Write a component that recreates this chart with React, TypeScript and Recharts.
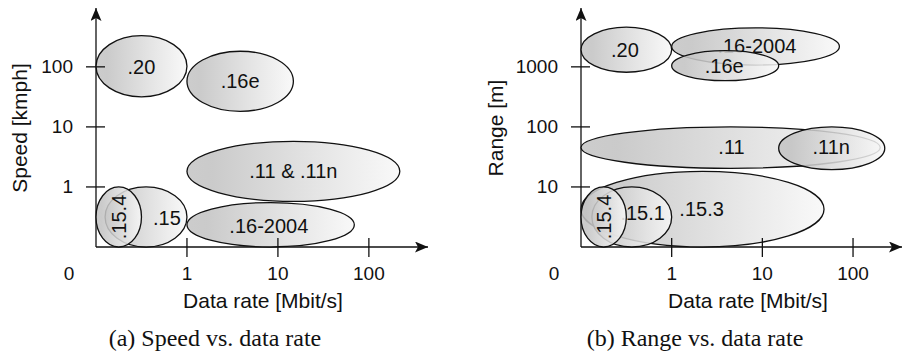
import React from "react";
import { ScatterChart, XAxis, YAxis, ReferenceArea, Label } from "recharts";

// both axes are drawn in decades: 0 = origin, 1 = "1", 2 = "10", 3 = "100"
const xTicks = [0, 1, 2, 3];
const xTickLabels = ["0", "1", "10", "100"];
const yTicks = [1, 2, 3];

// (a) Speed vs. data rate
const speedNames = [".20", ".16e", ".11 & .11n", ".15", ".16-2004", ".15.4"];
const speedX1 = [0, 1.0, 1.0, 0.1, 1.0, 0];
const speedX2 = [1.0, 2.17, 3.34, 1.0, 2.84, 0.5];
const speedY1 = [2.5, 2.26, 0.76, 0, 0, 0];
const speedY2 = [3.52, 3.26, 1.76, 1.0, 0.74, 1.0];
const speedLabelX = [0.5, 1.585, 2.17, 0.78, 1.9, 0.25];
const speedLabelY = [3.0, 2.76, 1.26, 0.48, 0.35, 0.5];
const speedYLabels = ["1", "10", "100"];

// (b) Range vs. data rate
const rangeNames = [".20", ".16-2004", ".16e", ".11", ".11n", ".15.3", ".15.1", ".15.4"];
const rangeX1 = [0, 1.0, 1.0, 0, 2.18, 0, 0.12, 0];
const rangeX2 = [1.0, 2.85, 2.18, 3.3, 3.35, 2.68, 1.0, 0.5];
const rangeY1 = [2.91, 3.03, 2.77, 1.31, 1.29, 0, 0, 0];
const rangeY2 = [3.66, 3.65, 3.27, 2.0, 2.0, 1.26, 1.0, 1.0];
const rangeLabelX = [0.485, 1.94, 1.58, 1.66, 2.76, 1.33, 0.68, 0.25];
const rangeLabelY = [3.28, 3.34, 3.02, 1.67, 1.67, 0.63, 0.57, 0.5];
const rangeYLabels = ["10", "100", "1000"];

const SANS = "'Liberation Sans', Arial, sans-serif";
const SERIF = "'Liberation Serif', 'Times New Roman', serif";

type Region = {
  name: string;
  x1: number;
  x2: number;
  y1: number;
  y2: number;
  lx: number;
  ly: number;
};

const build = (
  names: string[],
  x1: number[],
  x2: number[],
  y1: number[],
  y2: number[],
  lx: number[],
  ly: number[]
): Region[] =>
  names.map((name, i) => ({ name, x1: x1[i], x2: x2[i], y1: y1[i], y2: y2[i], lx: lx[i], ly: ly[i] }));

const Blob = (props: any, r: Region, gid: string) => {
  const { x, y, width, height } = props;
  if (![x, y, width, height].every((v) => Number.isFinite(v))) return <g />;
  const lx = x + (width * (r.lx - r.x1)) / (r.x2 - r.x1);
  const ly = y + (height * (r.y2 - r.ly)) / (r.y2 - r.y1);
  const vertical = r.name === ".15.4";
  return (
    <g>
      <ellipse
        cx={x + width / 2}
        cy={y + height / 2}
        rx={width / 2}
        ry={height / 2}
        fill={`url(#${gid})`}
        fillOpacity={0.86}
        stroke="#111"
        strokeWidth={1.3}
      />
      <text
        x={lx}
        y={ly}
        textAnchor="middle"
        dominantBaseline="central"
        fontSize={20}
        fontFamily={SANS}
        fill="#111"
        transform={vertical ? `rotate(-90 ${lx} ${ly})` : undefined}
      >
        {r.name}
      </text>
    </g>
  );
};

const YTick = (props: any, labels: string[]) => {
  const { x, y, index } = props;
  return (
    <g>
      <line x1={x - 10} x2={x + 9} y1={y} y2={y} stroke="#111" strokeWidth={1.3} />
      <text x={x - 23} y={y} textAnchor="end" dominantBaseline="central" fontSize={19} fontFamily={SANS} fill="#111">
        {labels[index]}
      </text>
    </g>
  );
};

const XTick = (props: any) => {
  const { x, y, index } = props;
  if (index === 0) {
    return (
      <text x={x - 27} y={y + 26} textAnchor="middle" dominantBaseline="central" fontSize={19} fontFamily={SANS} fill="#111">
        {xTickLabels[0]}
      </text>
    );
  }
  return (
    <g>
      <line x1={x} x2={x} y1={y - 9} y2={y + 10} stroke="#111" strokeWidth={1.3} />
      <text x={x} y={y + 26} textAnchor="middle" dominantBaseline="central" fontSize={19} fontFamily={SANS} fill="#111">
        {xTickLabels[index]}
      </text>
    </g>
  );
};

type PanelProps = {
  id: string;
  width: number;
  left: number;
  right: number;
  xMax: number;
  regions: Region[];
  yLabels: string[];
  yTitle: string;
  yTitleDx: number;
  caption: string;
  captionDx: number;
};

const Panel = ({ id, width, left, right, xMax, regions, yLabels, yTitle, yTitleDx, caption, captionDx }: PanelProps) => {
  const plotLeft = left + 60;
  return (
    <ScatterChart width={width} height={353} margin={{ top: 8, right, bottom: 46, left }}>
      <defs>
        <marker id={`${id}-arrow`} viewBox="0 0 13 11" refX={13} refY={5.5} markerWidth={13} markerHeight={11} markerUnits="userSpaceOnUse" orient="auto-start-reverse">
          <path d="M0,0 L13,5.5 L0,11 L3,5.5 Z" fill="#111" />
        </marker>
        <linearGradient id={`${id}-fill`} x1="0" y1="0" x2="1" y2="0">
          <stop offset="0" stopColor="#c4c4c4" />
          <stop offset="0.12" stopColor="#c2c2c2" />
          <stop offset="0.6" stopColor="#e0e0e0" />
          <stop offset="1" stopColor="#f8f8f8" />
        </linearGradient>
      </defs>
      <XAxis
        type="number"
        dataKey="x"
        domain={[0, xMax]}
        allowDataOverflow
        ticks={xTicks}
        interval={0}
        height={60}
        tickSize={0}
        tickMargin={0}
        tickLine={false}
        axisLine={{ stroke: "#111", strokeWidth: 1.3, markerEnd: `url(#${id}-arrow)` } as any}
        tick={XTick}
      >
        <Label
          content={(p: any) => {
            const vb = p.viewBox || {};
            const ax = Number.isFinite(vb.x) ? vb.x : plotLeft;
            const ay = Number.isFinite(vb.y) ? vb.y : 247;
            return (
              <g>
                <text x={ax + 167} y={ay + 61} textAnchor="middle" fontSize={21} fontFamily={SANS} fill="#111">
                  Data rate [Mbit/s]
                </text>
                <text x={ax + captionDx} y={ay + 99} textAnchor="middle" fontSize={24} fontFamily={SERIF} fill="#111">
                  {caption}
                </text>
              </g>
            );
          }}
        />
      </XAxis>
      <YAxis
        type="number"
        dataKey="y"
        domain={[0, 3.98]}
        allowDataOverflow
        ticks={yTicks}
        interval={0}
        width={60}
        tickSize={0}
        tickMargin={0}
        tickLine={false}
        axisLine={{ stroke: "#111", strokeWidth: 1.3, markerStart: `url(#${id}-arrow)` } as any}
        tick={(p: any) => YTick(p, yLabels)}
      >
        <Label
          content={(p: any) => {
            const vb = p.viewBox || {};
            const ax = Number.isFinite(vb.x) && Number.isFinite(vb.width) ? vb.x + vb.width : plotLeft;
            const tx = ax - yTitleDx;
            const ty = 128;
            return (
              <text x={tx} y={ty} textAnchor="middle" fontSize={21} fontFamily={SANS} fill="#111" transform={`rotate(-90 ${tx} ${ty})`}>
                {yTitle}
              </text>
            );
          }}
        />
      </YAxis>
      {regions.map((r, i) => (
        <ReferenceArea
          key={r.name + i}
          x1={r.x1}
          x2={r.x2}
          y1={r.y1}
          y2={r.y2}
          ifOverflow="visible"
          {...({ zIndex: 600 } as any)}
          shape={(p: any) => Blob(p, r, `${id}-fill`)}
        />
      ))}
    </ScatterChart>
  );
};

const speedRegions = build(speedNames, speedX1, speedX2, speedY1, speedY2, speedLabelX, speedLabelY);
const rangeRegions = build(rangeNames, rangeX1, rangeX2, rangeY1, rangeY2, rangeLabelX, rangeLabelY);

export default function App() {
  return (
    <div style={{ position: "absolute", left: 0, top: 0, width: 903, height: 353, background: "#fff" }}>
      <div style={{ position: "absolute", left: 0, top: 0 }}>
        <Panel
          id="a"
          width={450}
          left={36}
          right={22}
          xMax={3.65}
          regions={speedRegions}
          yLabels={speedYLabels}
          yTitle="Speed [kmph]"
          yTitleDx={69}
          caption="(a) Speed vs. data rate"
          captionDx={119}
        />
      </div>
      <div style={{ position: "absolute", left: 450, top: 0 }}>
        <Panel
          id="b"
          width={453}
          left={71}
          right={1}
          xMax={3.54}
          regions={rangeRegions}
          yLabels={rangeYLabels}
          yTitle="Range [m]"
          yTitleDx={78}
          caption="(b) Range vs. data rate"
          captionDx={114}
        />
      </div>
    </div>
  );
}
